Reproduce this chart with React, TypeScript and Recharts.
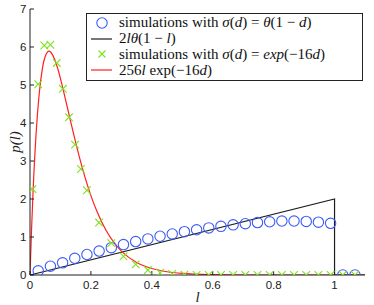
import React from 'react';
import { ComposedChart, Line, Scatter, XAxis, YAxis, Legend } from 'recharts';

// simulations with sigma(d) = theta(1-d)  (blue circles)
const circleL = [0.027, 0.067, 0.107, 0.147, 0.187, 0.227, 0.267, 0.307, 0.347, 0.387, 0.427, 0.467, 0.507, 0.547, 0.587, 0.627, 0.667, 0.707, 0.747, 0.787, 0.827, 0.867, 0.907, 0.947, 0.987, 1.027, 1.067];
const circleP = [0.11, 0.23, 0.32, 0.44, 0.54, 0.63, 0.72, 0.8, 0.88, 0.95, 1.02, 1.08, 1.14, 1.19, 1.24, 1.28, 1.32, 1.35, 1.38, 1.4, 1.42, 1.42, 1.41, 1.39, 1.36, 0, 0];

// simulations with sigma(d) = exp(-16d)  (green crosses)
const crossL = [0.008, 0.027, 0.047, 0.067, 0.088, 0.108, 0.128, 0.148, 0.167, 0.187, 0.227, 0.267, 0.307, 0.347, 0.387, 0.427, 0.467, 0.507, 0.547, 0.587, 0.627, 0.667, 0.707, 0.747, 0.787, 0.827, 0.867, 0.907, 0.947, 0.987, 1.027, 1.067];
const crossP = [2.26, 5.02, 6.04, 6.06, 5.58, 4.9, 4.15, 3.43, 2.79, 2.23, 1.38, 0.84, 0.49, 0.28, 0.13, 0.06, 0.03, 0.01, 0, 0, 0, 0, 0, 0, 0, 0, 0, 0, 0, 0, 0, 0];

// 2 l theta(1-l)  (black line)
const blackL = [0, 1, 1, 1.1];
const blackP = [0, 2, 0, 0];

// 256 l exp(-16d)  (red curve)
const redL = [0, 0.005, 0.01, 0.02, 0.03, 0.04, 0.05, 0.0625, 0.075, 0.09, 0.1, 0.12, 0.14, 0.16, 0.18, 0.2, 0.22, 0.25, 0.28, 0.3, 0.35, 0.4, 0.45, 0.5, 0.6, 0.7, 0.8, 0.9, 1.0, 1.1];
const redP = [0, 1.18, 2.18, 3.72, 4.75, 5.4, 5.75, 5.89, 5.78, 5.46, 5.17, 4.5, 3.82, 3.17, 2.59, 2.09, 1.67, 1.17, 0.81, 0.63, 0.33, 0.17, 0.086, 0.043, 0.01, 0, 0, 0, 0, 0];

const xTicks = [0, 0.2, 0.4, 0.6, 0.8, 1];
const yTicks = [0, 1, 2, 3, 4, 5, 6, 7];

const BLUE = '#3c5cf6';
const GREEN = '#7ee21c';
const RED = '#ff1f1f';
const BLACK = '#1e1e1e';

const zip = (a: number[], b: number[]) => a.map((x, i) => ({ x, y: b[i] }));
const circles = zip(circleL, circleP);
const crosses = zip(crossL, crossP);
const black = zip(blackL, blackP);
const red = zip(redL, redP);

const Ring = (props: any) => {
  const { cx, cy } = props;
  if (cx == null || cy == null) return null;
  return <circle cx={cx} cy={cy} r={5.2} fill="none" stroke={BLUE} strokeWidth={1.1} />;
};

const Cross = (props: any) => {
  const { cx, cy } = props;
  if (cx == null || cy == null) return null;
  const s = 3.8;
  return (
    <path
      d={`M${cx - s},${cy - s}L${cx + s},${cy + s}M${cx - s},${cy + s}L${cx + s},${cy - s}`}
      stroke={GREEN}
      strokeWidth={1.1}
      fill="none"
    />
  );
};

const I = ({ children }: { children: React.ReactNode }) => <span style={{ fontStyle: 'italic' }}>{children}</span>;

const rowStyle: React.CSSProperties = { height: 15.8, display: 'flex', alignItems: 'center', whiteSpace: 'nowrap' };

const Icon = ({ kind }: { kind: string }) => (
  <svg width={24} height={14} style={{ marginRight: 5, flex: 'none' }}>
    {kind === 'ring' && <circle cx={12} cy={7} r={5.2} fill="none" stroke={BLUE} strokeWidth={1.1} />}
    {kind === 'black' && <line x1={1} y1={7} x2={22} y2={7} stroke="#555" strokeWidth={1.6} />}
    {kind === 'cross' && <path d="M8.5,3.5L15.5,10.5M8.5,10.5L15.5,3.5" stroke={GREEN} strokeWidth={1.1} />}
    {kind === 'red' && <line x1={1} y1={7} x2={22} y2={7} stroke={RED} strokeWidth={1.2} />}
  </svg>
);

const LegendBox = () => (
  <div
    style={{
      width: 277,
      height: 68,
      boxSizing: 'border-box',
      border: '1px solid #222',
      background: '#fff',
      fontFamily: '"Liberation Serif", serif',
      fontSize: 15,
      color: '#111',
      padding: '1px 0 0 3px',
      lineHeight: 1,
    }}
  >
    <div style={rowStyle}>
      <Icon kind="ring" />
      <span>
        simulations with <I>σ</I>(<I>d</I>) = <I>θ</I>(1 − <I>d</I>)
      </span>
    </div>
    <div style={rowStyle}>
      <Icon kind="black" />
      <span>
        2<I>lθ</I>(1 − <I>l</I>)
      </span>
    </div>
    <div style={rowStyle}>
      <Icon kind="cross" />
      <span>
        simulations with <I>σ</I>(<I>d</I>) = <I>exp</I>(−16<I>d</I>)
      </span>
    </div>
    <div style={rowStyle}>
      <Icon kind="red" />
      <span>
        256<I>l</I> exp(−16<I>d</I>)
      </span>
    </div>
  </div>
);

const tickStyle = { fill: '#222', fontSize: 11.5, fontFamily: '"Liberation Sans", Arial, sans-serif' };

export default function App() {
  return (
    <div style={{ position: 'absolute', left: 0, top: 0, width: 374, height: 305, background: '#fff' }}>
      <ComposedChart width={374} height={305} margin={{ top: 9, right: 9, bottom: 0, left: 0 }}>
        <XAxis
          xAxisId={0}
          dataKey="x"
          type="number"
          domain={[0, 1.1]}
          ticks={xTicks}
          interval={0}
          allowDataOverflow
          height={30}
          tickSize={-4}
          tickMargin={10}
          axisLine={{ stroke: BLACK }}
          tickLine={{ stroke: BLACK }}
          tick={tickStyle}
          label={{ value: 'l', position: 'insideBottom', offset: 3, fontStyle: 'italic', fontFamily: '"Liberation Serif", serif', fontSize: 15, fill: '#222' }}
        />
        <XAxis
          xAxisId="top"
          orientation="top"
          dataKey="x"
          type="number"
          domain={[0, 1.1]}
          ticks={xTicks}
          interval={0}
          allowDataOverflow
          height={0}
          tickSize={-4}
          tick={false}
          axisLine={{ stroke: BLACK }}
          tickLine={{ stroke: BLACK }}
        />
        <YAxis
          yAxisId={0}
          dataKey="y"
          type="number"
          domain={[0, 7]}
          ticks={yTicks}
          interval={0}
          allowDataOverflow
          width={30}
          tickSize={-4}
          tickMargin={7.5}
          axisLine={{ stroke: BLACK }}
          tickLine={{ stroke: BLACK }}
          tick={tickStyle}
          label={{ value: 'p(l)', angle: -90, position: 'center', fontStyle: 'italic', fontFamily: '"Liberation Serif", serif', fontSize: 15, fill: '#222' }}
        />
        <YAxis
          yAxisId="right"
          orientation="right"
          type="number"
          domain={[0, 7]}
          ticks={yTicks}
          interval={0}
          allowDataOverflow
          width={0}
          tickSize={-4}
          tick={false}
          axisLine={{ stroke: '#777', strokeWidth: 2 }}
          tickLine={{ stroke: BLACK }}
        />
        <Scatter name="circles" data={circles} dataKey="y" shape={<Ring />} isAnimationActive={false} />
        <Line name="black" data={black} dataKey="y" type="linear" stroke={BLACK} strokeWidth={1.2} dot={false} activeDot={false} isAnimationActive={false} />
        <Scatter name="crosses" data={crosses} dataKey="y" shape={<Cross />} isAnimationActive={false} />
        <Line name="red" data={red} dataKey="y" type="monotone" stroke={RED} strokeWidth={1.2} dot={false} activeDot={false} isAnimationActive={false} />
        <Legend
          layout="vertical"
          align="center"
          verticalAlign="middle"
          content={() => <LegendBox />}
          wrapperStyle={{ left: 86, top: 13, width: 277, height: 68 }}
        />
      </ComposedChart>
    </div>
  );
}
